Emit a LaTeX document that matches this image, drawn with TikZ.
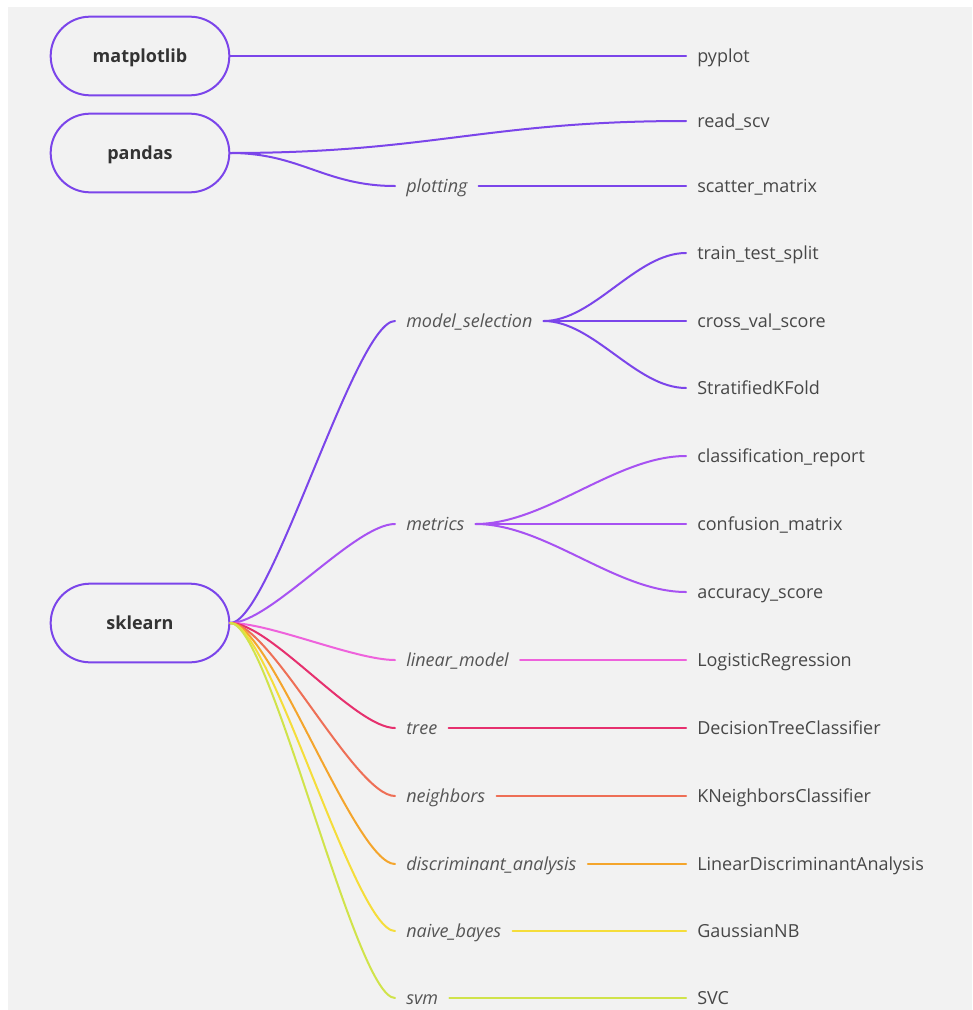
\documentclass[tikz,border=0pt]{standalone}
\usepackage{fontspec}
\setmainfont{Open Sans}
\definecolor{cBg}{HTML}{F2F2F2}
\definecolor{cPurple}{HTML}{7B45EA}
\definecolor{cMetrics}{HTML}{A752F2}
\definecolor{cLinear}{HTML}{EE62DC}
\definecolor{cTree}{HTML}{E6306E}
\definecolor{cNeigh}{HTML}{EE6F56}
\definecolor{cDisc}{HTML}{F4A52C}
\definecolor{cNaive}{HTML}{F5DD3A}
\definecolor{cSvm}{HTML}{D0E34A}
\definecolor{cRootText}{HTML}{333333}
\definecolor{cLeafText}{HTML}{474747}
\definecolor{cMidText}{HTML}{555555}
\begin{document}
\begin{tikzpicture}[x=0.75pt,y=-0.75pt,
  txt/.style={font=\fontsize{13.5}{16}\selectfont, text height=9.6pt, text depth=0pt},
  root/.style={txt, draw=cPurple, line width=1.5pt, rounded corners=29.5pt,
    minimum width=134pt, minimum height=59pt, inner sep=0pt,
    font=\fontsize{13.5}{16}\selectfont\bfseries, text=cRootText},
  leaf/.style={txt, anchor=west, inner xsep=8.25pt, inner ysep=0pt, text=cLeafText},
  mid/.style={leaf, font=\fontsize{13.5}{16}\selectfont\itshape, text=cMidText},
  conn/.style={line width=1.5pt, line cap=round}]
\useasboundingbox (0,0) rectangle (972,1010);
\fill[cBg] (8,7) rectangle (972,1010);

% roots
\node[root] (mpl) at (140,56) {matplotlib};
\node[root] (pd) at (140,153) {pandas};
\node[root] (sk) at (140,623) {sklearn};

% middle labels
\node[mid] (plotting) at (395,186) {plotting};
\node[mid] (ms) at (395,321) {model\_selection};
\node[mid] (metrics) at (395,524) {metrics};
\node[mid] (lm) at (395,660) {linear\_model};
\node[mid] (tree) at (395,728) {tree};
\node[mid] (neigh) at (395,796) {neighbors};
\node[mid] (disc) at (395,864) {discriminant\_analysis};
\node[mid] (nb) at (395,931) {naive\_bayes};
\node[mid] (svm) at (395,998) {svm};

% leaves
\node[leaf] (pyplot) at (686,56) {pyplot};
\node[leaf] (readscv) at (686,121) {read\_scv};
\node[leaf] (scatter) at (686,186) {scatter\_matrix};
\node[leaf] (tts) at (686,253) {train\_test\_split};
\node[leaf] (cvs) at (686,321) {cross\_val\_score};
\node[leaf] (skf) at (686,388) {StratifiedKFold};
\node[leaf] (cr) at (686,456) {classification\_report};
\node[leaf] (cm) at (686,524) {confusion\_matrix};
\node[leaf] (acc) at (686,592) {accuracy\_score};
\node[leaf] (lr) at (686,660) {LogisticRegression};
\node[leaf] (dtc) at (686,728) {DecisionTreeClassifier};
\node[leaf] (knc) at (686,796) {KNeighborsClassifier};
\node[leaf] (lda) at (686,864) {LinearDiscriminantAnalysis};
\node[leaf] (gnb) at (686,931) {GaussianNB};
\node[leaf] (svc) at (686,998) {SVC};

% matplotlib
\draw[conn, cPurple] (mpl.east) -- (pyplot.west);
% pandas
\draw[conn, cPurple] (pd.east) .. controls +(200,0) and +(-200,0) .. (readscv.west);
\draw[conn, cPurple] (pd.east) .. controls +(70,0) and +(-70,0) .. (plotting.west);
\draw[conn, cPurple] (plotting.east) -- (scatter.west);
% sklearn
\draw[conn, cPurple] (sk.east) .. controls +(40,0) and +(-40,0) .. (ms.west);
\draw[conn, cMetrics] (sk.east) .. controls +(40,0) and +(-40,0) .. (metrics.west);
\draw[conn, cLinear] (sk.east) .. controls +(40,0) and +(-40,0) .. (lm.west);
\draw[conn, cTree] (sk.east) .. controls +(40,0) and +(-40,0) .. (tree.west);
\draw[conn, cNeigh] (sk.east) .. controls +(40,0) and +(-40,0) .. (neigh.west);
\draw[conn, cDisc] (sk.east) .. controls +(40,0) and +(-40,0) .. (disc.west);
\draw[conn, cNaive] (sk.east) .. controls +(40,0) and +(-40,0) .. (nb.west);
\draw[conn, cSvm] (sk.east) .. controls +(40,0) and +(-40,0) .. (svm.west);
% model_selection
\draw[conn, cPurple] (ms.east) .. controls +(50,0) and +(-50,0) .. (tts.west);
\draw[conn, cPurple] (ms.east) -- (cvs.west);
\draw[conn, cPurple] (ms.east) .. controls +(50,0) and +(-50,0) .. (skf.west);
% metrics
\draw[conn, cMetrics] (metrics.east) .. controls +(70,0) and +(-70,0) .. (cr.west);
\draw[conn, cMetrics] (metrics.east) -- (cm.west);
\draw[conn, cMetrics] (metrics.east) .. controls +(70,0) and +(-70,0) .. (acc.west);
% single chains
\draw[conn, cLinear] (lm.east) -- (lr.west);
\draw[conn, cTree] (tree.east) -- (dtc.west);
\draw[conn, cNeigh] (neigh.east) -- (knc.west);
\draw[conn, cDisc] (disc.east) -- (lda.west);
\draw[conn, cNaive] (nb.east) -- (gnb.west);
\draw[conn, cSvm] (svm.east) -- (svc.west);
\end{tikzpicture}
\end{document}
